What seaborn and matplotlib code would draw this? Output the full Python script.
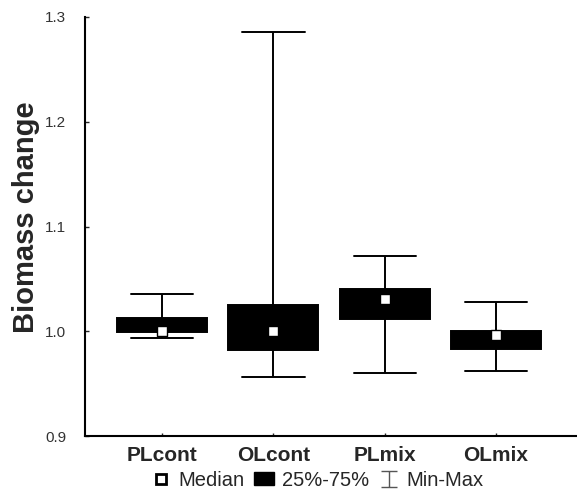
import numpy as np
import pandas as pd
import matplotlib
matplotlib.use("Agg")
import matplotlib.pyplot as plt
import seaborn as sns
from matplotlib.lines import Line2D
from matplotlib.patches import Patch
from matplotlib.path import Path

# ---- data ----
categories = ["PLcont", "OLcont", "PLmix", "OLmix"]
mins = [0.994, 0.956, 0.960, 0.962]
q1s = [0.999, 0.982, 1.012, 0.983]
medians = [1.000, 1.000, 1.031, 0.996]
q3s = [1.013, 1.025, 1.040, 1.000]
maxs = [1.036, 1.286, 1.072, 1.028]
yticks = [0.9, 1.0, 1.1, 1.2, 1.3]
legend_labels = ["Median", "25%-75%", "Min-Max"]

sns.set_theme(style="white")
plt.rcParams["font.family"] = ["Liberation Sans", "DejaVu Sans"]

rows = []
for c, a, b, m, d, e in zip(categories, mins, q1s, medians, q3s, maxs):
    for v in (a, b, m, d, e):
        rows.append({"group": c, "value": v})
df = pd.DataFrame(rows)

fig = plt.figure(figsize=(5.77, 4.92), dpi=100)
ax = fig.add_axes([85 / 577, 1 - 436 / 492, 1 - 85 / 577, (436 - 17) / 492])

sns.boxplot(data=df, x="group", y="value", order=categories, whis=(0, 100),
            width=0.81, color="black", linecolor="black", linewidth=1.4,
            showfliers=False, medianprops={"visible": False},
            capwidths=0.56, ax=ax)
sns.scatterplot(x=categories, y=medians, marker="s", s=62, color="white",
                edgecolor="black", linewidth=1.0, zorder=10, ax=ax)

ax.set_ylim(0.9, 1.3)
ax.set_xlim(-0.695, 3.73)
ax.set_yticks(yticks)
ax.set_yticklabels([f"{t:.1f}" for t in yticks], fontsize=11, color="#333333")
ax.set_xticks(range(len(categories)))
ax.set_xticklabels(categories, fontsize=15, fontweight="bold")
ax.tick_params(axis="y", direction="in", length=3, width=1, pad=13.5, left=True)
ax.tick_params(axis="x", direction="in", length=2, width=1, pad=7, bottom=True)
ax.set_xlabel("")
ax.set_ylabel("Biomass change", fontsize=21, fontweight="bold")
ax.yaxis.set_label_coords((40 - 85) / 492, (436 - 217) / 419)
for side in ["top", "right"]:
    ax.spines[side].set_visible(False)
for side in ["left", "bottom"]:
    ax.spines[side].set_color("black")
    ax.spines[side].set_linewidth(1.5)
ax.grid(False)

ibeam = Path([(-1, 1), (1, 1), (0, 1), (0, -1), (-1, -1), (1, -1)],
             [Path.MOVETO, Path.LINETO, Path.MOVETO, Path.LINETO, Path.MOVETO, Path.LINETO])
handles = [
    Line2D([], [], marker="s", ls="none", mfc="white", mec="black", mew=2.0, ms=7),
    Patch(facecolor="black", edgecolor="black"),
    Line2D([], [], marker=ibeam, ls="none", mfc="none", mec="#555555", mew=1.0, ms=11),
]
fig.legend(handles, legend_labels, loc="center", bbox_to_anchor=(317 / 577, 1 - 480 / 492),
           ncol=3, frameon=False, fontsize=14.5, handlelength=1.0, handleheight=0.6,
           handletextpad=0.35, columnspacing=0.5, borderaxespad=0, borderpad=0)

fig.savefig("out.png", dpi=100)
